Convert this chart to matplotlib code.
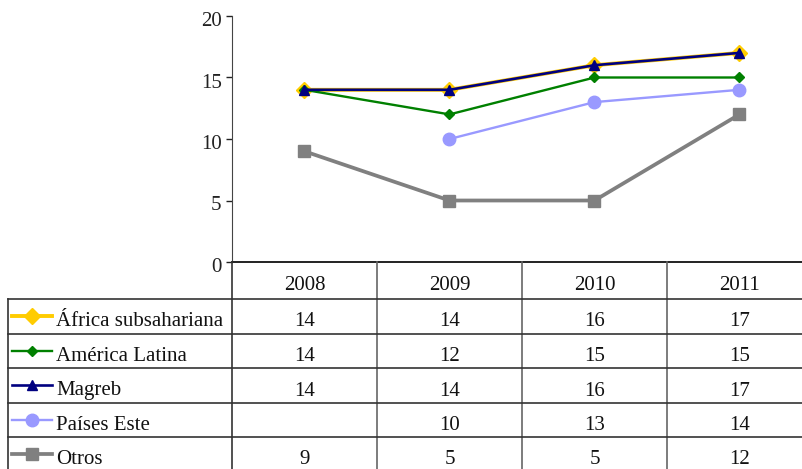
import matplotlib
matplotlib.use("Agg")
import matplotlib.pyplot as plt
import matplotlib.transforms as mtransforms
import numpy as np

plt.rcParams["font.family"] = ["Liberation Serif", "DejaVu Serif"]

years = ["2008", "2009", "2010", "2011"]
series_names = ["África subsahariana", "América Latina", "Magreb", "Países Este", "Otros"]
africa = [14, 14, 16, 17]
america = [14, 12, 15, 15]
magreb = [14, 14, 16, 17]
paises_este = [np.nan, 10, 13, 14]
otros = [9, 5, 5, 12]
yticks = [0, 5, 10, 15, 20]

# colour, marker, markersize, linewidth for each series
styles = [
    dict(color="#FFCC00", marker="D", markersize=8, linewidth=2.8),
    dict(color="#008000", marker="D", markersize=5, linewidth=1.7),
    dict(color="#000080", marker="^", markersize=6.5, linewidth=1.9),
    dict(color="#9999FF", marker="o", markersize=9, linewidth=1.7),
    dict(color="#808080", marker="s", markersize=8.5, linewidth=2.7),
]
values = [africa, america, magreb, paises_este, otros]

W, H = 803, 469
FS = 15
fig = plt.figure(figsize=(W / 100, H / 100), dpi=100)

# plot area in pixels
left, right, top, bottom = 232, 812, 16, 262
ax = fig.add_axes([left / W, 1 - bottom / H, (right - left) / W, (bottom - top) / H])
x = np.arange(len(years))
for vals, st in zip(values, styles):
    ax.plot(x, vals, markeredgecolor=st["color"], **st)

ax.set_xlim(-0.5, len(years) - 0.5)
ax.set_ylim(0, 20)
ax.set_yticks(yticks)
ax.set_xticks([])
ax.tick_params(axis="y", direction="out", length=4.5, width=1, labelsize=FS, pad=3, colors="#222222")
shift = mtransforms.ScaledTranslation(0, -3 / 100, fig.dpi_scale_trans)
for lbl in ax.get_yticklabels():
    lbl.set_transform(lbl.get_transform() + shift)
for s in ["top", "right"]:
    ax.spines[s].set_visible(False)
ax.spines["left"].set_color("#444444")
ax.spines["bottom"].set_color("#222222")
ax.spines["bottom"].set_linewidth(1.4)
ax.patch.set_alpha(0)

# data table below the plot
col_w = (right - left) / len(years)
tab_left = 8
label_w = (left - tab_left) / col_w
n_rows = len(series_names)
head_px, row_px = 37, 34.5
h0 = head_px / row_px
tab_bottom = bottom + head_px + n_rows * row_px
tax = fig.add_axes([tab_left / W, 1 - tab_bottom / H, (right - tab_left) / W, (tab_bottom - bottom) / H])
x0 = -0.5 - label_w
tax.set_xlim(x0, len(years) - 0.5)
tax.set_ylim(n_rows, -h0)
tax.axis("off")

line_kw = dict(color="#333333", linewidth=1.2, clip_on=False)
# vertical lines
for i in range(len(years)):
    tax.plot([i - 0.5, i - 0.5], [-h0, n_rows], color="#666666" if i else "#333333", linewidth=1.2, clip_on=False)
tax.plot([x0, x0], [0, n_rows], **line_kw)
# horizontal lines
for r in range(0, n_rows):
    tax.plot([x0, len(years) - 0.5], [r, r], **line_kw)

txt_kw = dict(va="baseline", fontsize=FS, color="#111111")

# header
for i, yr in enumerate(years):
    tax.text(i, -9 / row_px, yr, ha="center", **txt_kw)

px = 1 / col_w
for r, (name, vals, st) in enumerate(zip(series_names, values, styles)):
    yc = r + 0.5
    yb = r + 1 - 7 / row_px
    tax.plot([x0 + 4 * px, x0 + 44 * px], [yc, yc], color=st["color"], linewidth=st["linewidth"], clip_on=False)
    tax.plot([x0 + 24 * px], [yc], color=st["color"], marker=st["marker"], markersize=st["markersize"],
             markeredgecolor=st["color"], linestyle="none", clip_on=False)
    tax.text(x0 + 48 * px, yb, name, ha="left", **txt_kw)
    for i, v in enumerate(vals):
        if not np.isnan(v):
            tax.text(i, yb, f"{v:g}", ha="center", **txt_kw)

fig.savefig("out.png", dpi=100)
